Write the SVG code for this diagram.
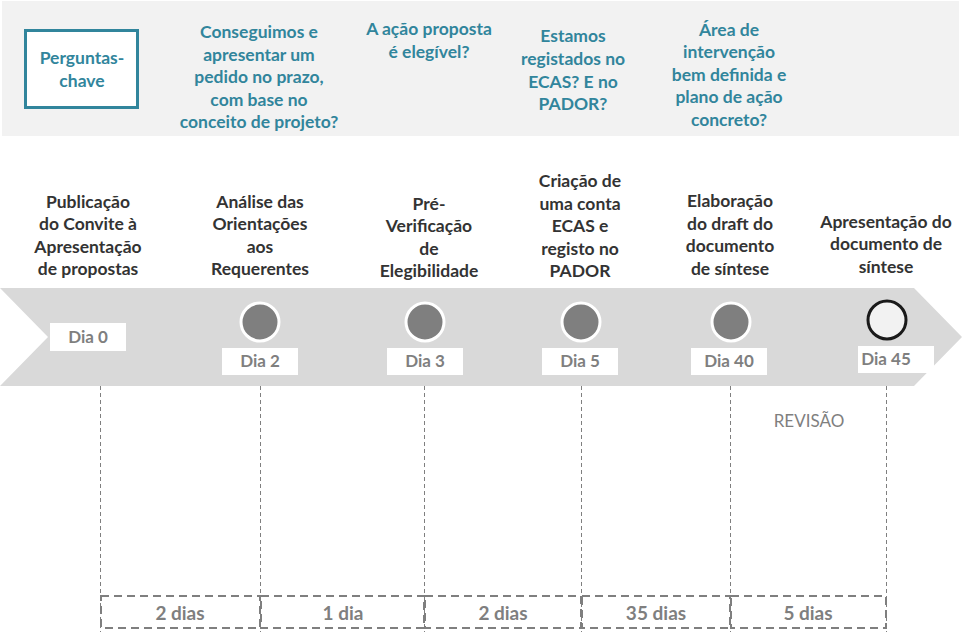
<svg xmlns="http://www.w3.org/2000/svg" width="968" height="632" viewBox="0 0 968 632">
<style>
text{font-family:Lato,"Liberation Sans",sans-serif;text-anchor:middle;font-size:17.5px}
.q{fill:#31859C;font-weight:bold}
.d{fill:#333333;font-weight:bold}
.g{fill:#7F7F7F;font-weight:bold;font-size:17px}
.b{fill:#7F7F7F;font-weight:bold;font-size:19px}
.r{fill:#7F7F7F;font-size:17px}
.dot{fill:#7F7F7F;stroke:#FFFFFF;stroke-width:3}
.lab{fill:#FFFFFF}
.vl{stroke:#7F7F7F;stroke-width:1;stroke-dasharray:4 3;fill:none}
.bx{stroke:#7F7F7F;stroke-width:2;stroke-dasharray:8 5;fill:none}
</style>
<rect width="968" height="632" fill="#FFFFFF"/>
<rect x="2" y="1" width="957" height="135" fill="#F2F2F2"/>
<g id="key">
<rect x="25.5" y="30.5" width="112" height="77" fill="#FFFFFF" stroke="#31859C" stroke-width="3"/>
<text class="q" x="82" y="64">Perguntas-</text>
<text class="q" x="82" y="87">chave</text>
</g>
<g id="q1">
<text class="q" x="259" y="38">Conseguimos e</text>
<text class="q" x="259" y="61">apresentar um</text>
<text class="q" x="259" y="83">pedido no prazo,</text>
<text class="q" x="259" y="106">com base no</text>
<text class="q" x="259" y="128">conceito de projeto?</text>
</g>
<g id="q2">
<text class="q" x="429" y="35">A ação proposta</text>
<text class="q" x="429" y="58">é elegível?</text>
</g>
<g id="q3">
<text class="q" x="573" y="42">Estamos</text>
<text class="q" x="573" y="65">registados no</text>
<text class="q" x="573" y="88">ECAS? E no</text>
<text class="q" x="573" y="110">PADOR?</text>
</g>
<g id="q4">
<text class="q" x="729" y="36">Área de</text>
<text class="q" x="729" y="58">intervenção</text>
<text class="q" x="729" y="81">bem definida e</text>
<text class="q" x="729" y="103">plano de ação</text>
<text class="q" x="729" y="126">concreto?</text>
</g>
<polygon id="band" points="0,288 914,288 962,337 914,386 0,386 48,337" fill="#D9D9D9"/>
<g id="connectors">
<line class="vl" x1="100.5" y1="386" x2="100.5" y2="632"/>
<line class="vl" x1="260.5" y1="386" x2="260.5" y2="632"/>
<line class="vl" x1="424.5" y1="386" x2="424.5" y2="632"/>
<line class="vl" x1="581.5" y1="386" x2="581.5" y2="632"/>
<line class="vl" x1="730.5" y1="386" x2="730.5" y2="632"/>
<line class="vl" x1="886.5" y1="386" x2="886.5" y2="632"/>
</g>
<g id="m0">
<text class="d" x="88" y="208">Publicação</text>
<text class="d" x="88" y="230">do Convite à</text>
<text class="d" x="88" y="253">Apresentação</text>
<text class="d" x="88" y="275">de propostas</text>
<rect class="lab" x="50" y="323" width="76" height="28"/>
<text class="g" x="88" y="343">Dia 0</text>
</g>
<g id="m2">
<text class="d" x="260" y="208">Análise das</text>
<text class="d" x="260" y="230">Orientações</text>
<text class="d" x="260" y="253">aos</text>
<text class="d" x="260" y="275">Requerentes</text>
<circle class="dot" cx="260" cy="322" r="19"/>
<rect class="lab" x="222" y="348" width="76" height="27"/>
<text class="g" x="260" y="367">Dia 2</text>
</g>
<g id="m3">
<text class="d" x="429" y="210">Pré-</text>
<text class="d" x="429" y="232">Verificação</text>
<text class="d" x="429" y="255">de</text>
<text class="d" x="429" y="277">Elegibilidade</text>
<circle class="dot" cx="425" cy="322" r="19"/>
<rect class="lab" x="387" y="348" width="76" height="27"/>
<text class="g" x="425" y="367">Dia 3</text>
</g>
<g id="m5">
<text class="d" x="580" y="187">Criação de</text>
<text class="d" x="580" y="210">uma conta</text>
<text class="d" x="580" y="232">ECAS e</text>
<text class="d" x="580" y="255">registo no</text>
<text class="d" x="580" y="277">PADOR</text>
<circle class="dot" cx="581" cy="322" r="19"/>
<rect class="lab" x="542" y="348" width="76" height="27"/>
<text class="g" x="580" y="367">Dia 5</text>
</g>
<g id="m40">
<text class="d" x="730" y="207">Elaboração</text>
<text class="d" x="730" y="230">do draft do</text>
<text class="d" x="730" y="252">documento</text>
<text class="d" x="730" y="275">de síntese</text>
<circle class="dot" cx="731" cy="322" r="19"/>
<rect class="lab" x="691" y="348" width="76" height="27"/>
<text class="g" x="729" y="367">Dia 40</text>
</g>
<g id="m45">
<text class="d" x="886" y="228">Apresentação do</text>
<text class="d" x="886" y="250">documento de</text>
<text class="d" x="886" y="273">síntese</text>
<circle cx="887" cy="320" r="19" fill="#F2F2F2" stroke="#1A1A1A" stroke-width="3"/>
<rect class="lab" x="858" y="346" width="76" height="27"/>
<text class="g" x="886" y="365">Dia 45</text>
</g>
<text class="r" x="809" y="427">REVISÃO</text>
<g id="durations">
<rect class="bx" x="101" y="596" width="159" height="32"/>
<rect class="bx" x="261" y="596" width="163" height="32"/>
<rect class="bx" x="425" y="596" width="156" height="32"/>
<rect class="bx" x="582" y="596" width="148" height="32"/>
<rect class="bx" x="731" y="596" width="155" height="32"/>
<text class="b" x="180" y="620">2 dias</text>
<text class="b" x="343" y="620">1 dia</text>
<text class="b" x="503" y="620">2 dias</text>
<text class="b" x="656" y="620">35 dias</text>
<text class="b" x="808" y="620">5 dias</text>
</g>
</svg>
